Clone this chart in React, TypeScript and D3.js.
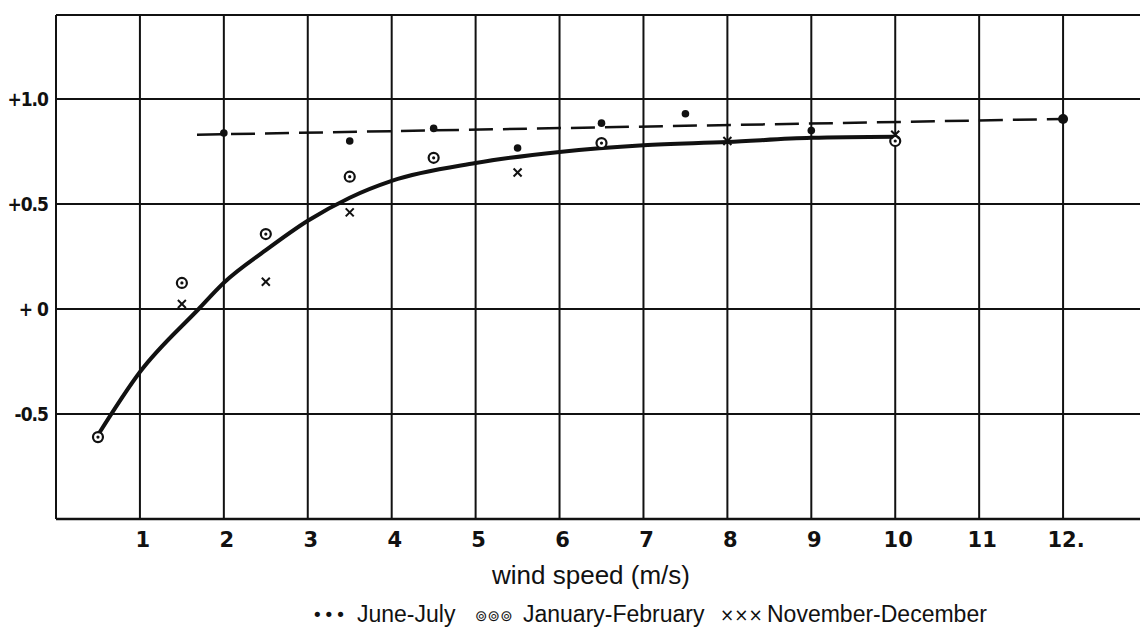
import React from "react";
import * as d3 from "d3";

// ---- data ----
const xTicks = [1, 2, 3, 4, 5, 6, 7, 8, 9, 10, 11, 12];
const xTickLabels = ["1", "2", "3", "4", "5", "6", "7", "8", "9", "10", "11", "12."];
const yTicks = [-0.5, 0, 0.5, 1.0];
const yTickLabels = ["-0.5", "+ 0", "+0.5", "+1.0"];

const juneJulyX = [2, 3.5, 4.5, 5.5, 6.5, 7.5, 9, 12];
const juneJulyY = [0.838, 0.8, 0.86, 0.767, 0.885, 0.93, 0.85, 0.905];

const janFebX = [0.5, 1.5, 2.5, 3.5, 4.5, 6.5, 10];
const janFebY = [-0.61, 0.124, 0.357, 0.63, 0.72, 0.79, 0.8];

const novDecX = [1.5, 2.5, 3.5, 5.5, 8, 10];
const novDecY = [0.024, 0.13, 0.46, 0.65, 0.8, 0.83];

const curveX = [0.5, 1, 1.7, 2, 2.5, 3, 3.5, 4, 5, 6, 7, 8, 9, 10];
const curveY = [-0.6, -0.3, 0, 0.125, 0.28, 0.42, 0.53, 0.61, 0.695, 0.748, 0.78, 0.795, 0.815, 0.82];

const dashX = [1.68, 12];
const dashY = [0.83, 0.905];

const xTitle = "wind speed (m/s)";
const legendLabels = ["June-July", "January-February", "November-December"];
const legendSymbols = ["•••", "⊚⊚⊚", "×××"];

const W = 1140;
const H = 627;

export default function App() {
  const x = d3.scaleLinear().domain([0, 13]).range([56, 1147]);
  const y = d3.scaleLinear().domain([-1, 1.4]).range([519, 15]);

  const line = d3
    .line<number>()
    .x((_, i) => x(curveX[i]))
    .y((d) => y(d))
    .curve(d3.curveMonotoneX);
  const dashLine = d3
    .line<number>()
    .x((_, i) => x(dashX[i]))
    .y((d) => y(d));

  const ink = "#111";
  const gridTop = y(1.4);
  const gridBottom = y(-1);
  const gridLeft = x(0);
  const gridRight = W;

  const legendX = [312, 357, 475, 523, 720, 767];

  return (
    <svg
      width={W}
      height={H}
      viewBox={`0 0 ${W} ${H}`}
      style={{ position: "absolute", left: 0, top: 0, background: "#fff" }}
    >
      <rect x={0} y={0} width={W} height={H} fill="#fff" />
      {/* grid */}
      <g stroke={ink} strokeWidth={2} fill="none">
        {xTicks.map((t) => (
          <line key={"v" + t} x1={x(t)} x2={x(t)} y1={gridTop} y2={gridBottom} />
        ))}
        <line x1={gridLeft} x2={gridLeft} y1={gridTop} y2={gridBottom} />
        {yTicks.map((t) => (
          <line key={"h" + t} x1={gridLeft} x2={gridRight} y1={y(t)} y2={y(t)} />
        ))}
        <line x1={gridLeft} x2={gridRight} y1={gridTop} y2={gridTop} />
        <line x1={gridLeft} x2={gridRight} y1={gridBottom} y2={gridBottom} strokeWidth={2.5} />
      </g>

      {/* y tick labels */}
      <g
        fontFamily="'DejaVu Sans Condensed', 'DejaVu Sans', sans-serif"
        fontWeight="bold"
        fontSize={19}
        fill={ink}
        textAnchor="end"
        letterSpacing={-1}
      >
        {yTicks.map((t, i) => (
          <text key={"yl" + t} x={48} y={y(t) + 7}>
            {yTickLabels[i]}
          </text>
        ))}
      </g>

      {/* x tick labels */}
      <g
        fontFamily="'DejaVu Sans', sans-serif"
        fontSize={21}
        fontWeight={600}
        fill={ink}
        textAnchor="middle"
      >
        {xTicks.map((t, i) => (
          <text key={"xl" + t} x={x(t) + 3} y={547}>
            {xTickLabels[i]}
          </text>
        ))}
      </g>

      {/* dashed line */}
      <path
        d={dashLine(dashY) || ""}
        fill="none"
        stroke={ink}
        strokeWidth={2.5}
        strokeDasharray="24 10"
      />
      {/* solid curve */}
      <path d={line(curveY) || ""} fill="none" stroke={ink} strokeWidth={4} strokeLinecap="round" />

      {/* June-July dots */}
      {juneJulyX.map((v, i) => (
        <circle
          key={"jj" + i}
          cx={x(v)}
          cy={y(juneJulyY[i])}
          r={i === juneJulyX.length - 1 ? 5 : 3.8}
          fill={ink}
        />
      ))}
      {/* January-February circles */}
      {janFebX.map((v, i) => (
        <g key={"jf" + i}>
          <circle cx={x(v)} cy={y(janFebY[i])} r={5} fill="#fff" stroke={ink} strokeWidth={2.2} />
          <circle cx={x(v)} cy={y(janFebY[i])} r={1.6} fill={ink} />
        </g>
      ))}
      {/* November-December crosses */}
      {novDecX.map((v, i) => {
        const cx = x(v);
        const cy = y(novDecY[i]);
        const s = 4;
        return (
          <g key={"nd" + i} stroke={ink} strokeWidth={2}>
            <line x1={cx - s} y1={cy - s} x2={cx + s} y2={cy + s} />
            <line x1={cx - s} y1={cy + s} x2={cx + s} y2={cy - s} />
          </g>
        );
      })}

      {/* axis title */}
      <text
        x={591}
        y={584}
        textAnchor="middle"
        fontFamily="'Liberation Sans', Arial, sans-serif"
        fontSize={26}
        fill={ink}
      >
        {xTitle}
      </text>

      {/* legend */}
      <g fontFamily="'Liberation Sans', Arial, sans-serif" fontSize={23} fill={ink}>
        {legendLabels.map((lab, i) => (
          <React.Fragment key={"lg" + i}>
            <text
              x={legendX[i * 2]}
              y={621}
              fontFamily="'DejaVu Sans', sans-serif"
              fontSize={i === 0 ? 18 : i === 2 ? 17 : 15}
              letterSpacing={i === 0 ? 1 : 0}
            >
              {legendSymbols[i]}
            </text>
            <text x={legendX[i * 2 + 1]} y={622}>
              {lab}
            </text>
          </React.Fragment>
        ))}
      </g>
    </svg>
  );
}
